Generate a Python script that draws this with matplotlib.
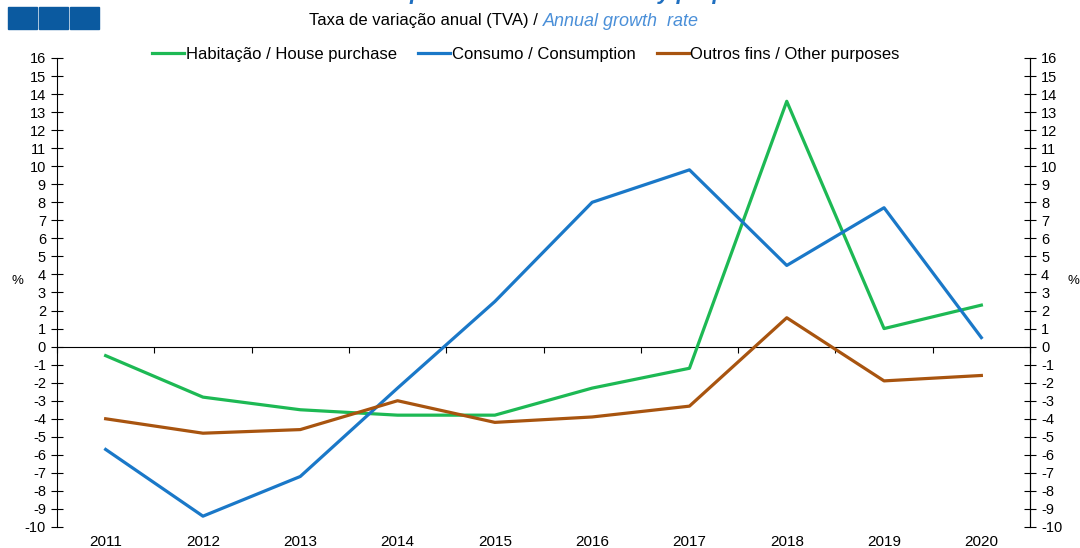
import numpy as np
import matplotlib.pyplot as plt
from matplotlib.patches import Rectangle

plt.rcParams['font.family'] = ['Liberation Sans', 'DejaVu Sans']

years = ['2011', '2012', '2013', '2014', '2015', '2016', '2017', '2018', '2019', '2020']
habitacao = [-0.5, -2.8, -3.5, -3.8, -3.8, -2.3, -1.2, 13.6, 1.0, 2.3]
consumo = [-5.7, -9.4, -7.2, -2.3, 2.5, 8.0, 9.8, 4.5, 7.7, 0.5]
outros = [-4.0, -4.8, -4.6, -3.0, -4.2, -3.9, -3.3, 1.6, -1.9, -1.6]
yticks = list(range(-10, 17))

c_green = '#1db954'
c_blue = '#1a78c8'
c_brown = '#a8540f'

fig = plt.figure(figsize=(10.8, 5.48), dpi=100)
ax = fig.add_axes([57/1080, 1 - 527/548, (1030 - 57)/1080, (527 - 58)/548])

x = np.arange(len(years))
ax.plot(x, habitacao, color=c_green, lw=2.3, label='Habitação / House purchase')
ax.plot(x, consumo, color=c_blue, lw=2.3, label='Consumo / Consumption')
ax.plot(x, outros, color=c_brown, lw=2.3, label='Outros fins / Other purposes')

ax.set_xlim(-0.5, len(years) - 0.5)
ax.set_ylim(-10, 16)
ax.set_yticks(yticks)
ax.set_yticklabels([str(v) for v in yticks], fontsize=10.5)
ax.tick_params(axis='y', direction='inout', length=8, width=0.8, pad=4)

for s in ['top', 'bottom']:
    ax.spines[s].set_visible(False)
ax.spines['left'].set_linewidth(0.8)
ax.spines['right'].set_linewidth(0.8)

# category labels at the bottom, no tick marks
ax.set_xticks(x)
ax.set_xticklabels(years, fontsize=11)
ax.tick_params(axis='x', length=0, pad=6)

# zero line with boundary ticks
zax = ax.secondary_xaxis(0, transform=ax.transData)
zax.set_xticks(np.arange(len(years) + 1) - 0.5)
zax.set_xticklabels([])
zax.tick_params(axis='x', direction='out', length=4, width=0.8)
zax.spines['bottom'].set_linewidth(0.8)

ax2 = ax.twinx()
ax2.set_ylim(-10, 16)
ax2.set_yticks(yticks)
ax2.set_yticklabels([str(v) for v in yticks], fontsize=10.5)
ax2.tick_params(axis='y', direction='inout', length=8, width=0.8, pad=4)
for s in ['top', 'bottom', 'left']:
    ax2.spines[s].set_visible(False)
ax2.spines['right'].set_linewidth(0.8)

fig.text(17/1080, 1 - 281/548, '%', fontsize=9.5, ha='center', va='center')
fig.text(1073/1080, 1 - 281/548, '%', fontsize=9.5, ha='center', va='center')

leg = fig.legend(loc='center', bbox_to_anchor=(526/1080, 1 - 54/548), ncol=3,
                 frameon=False, fontsize=12, handlelength=1.9, handletextpad=0.1,
                 columnspacing=1.3)

# subtitle
fig.text(538/1080, 1 - 21/548, 'Taxa de variação anual (TVA) /', fontsize=12,
         ha='right', va='center')
fig.text(543/1080, 1 - 21/548, 'Annual growth  rate', fontsize=13, style='italic',
         color='#4a8fd8', ha='left', va='center')

# clipped title (only its lower edge shows, as in the source image)
fig.text(545/1080, 1 + 7/548, 'Crédito por finalidade / Credit by purpose', fontsize=16,
         weight='bold', style='italic', color='#1f6fc0', ha='center', va='center')

# logo squares
for i in range(3):
    fig.add_artist(Rectangle(((8 + i * 31) / 1080, 1 - 29/548), 29/1080, 22/548,
                             transform=fig.transFigure, color='#0b5aa0'))

fig.savefig('out.png', dpi=100)
